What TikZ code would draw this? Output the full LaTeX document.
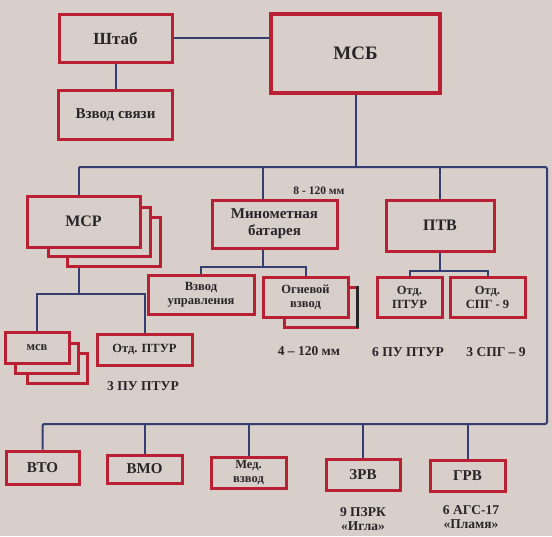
\documentclass[tikz,border=0pt]{standalone}
\usepackage{fontspec}
\setmainfont{Liberation Serif}
\definecolor{paper}{RGB}{216,206,202}
\definecolor{frame}{RGB}{185,32,52}
\definecolor{wire}{RGB}{52,62,112}
\definecolor{ink}{RGB}{40,36,40}
\pgfdeclarelayer{back}
\pgfdeclarelayer{wires}
\pgfsetlayers{back,wires,main}

\begin{document}
\begin{tikzpicture}[x=1pt,y=-1pt,
    unit/.style={draw=frame, line width=3pt, fill=paper, text=ink, align=center,
                 inner sep=0pt, font=\bfseries\fontsize{15}{17}\selectfont},
    smalltxt/.style={font=\bfseries\fontsize{12.5}{14}\selectfont},
    sheet/.style={draw=frame, line width=3pt, fill=paper},
    link/.style={draw=wire, line width=2pt},
    note/.style={text=ink, align=center, font=\bfseries\fontsize{13.5}{14.5}\selectfont}]

    \begin{pgfonlayer}{back}
      \fill[paper] (0,0) rectangle (552,536);
    \end{pgfonlayer}
    \useasboundingbox (0,0) rectangle (552,536);

    % stacked sheets behind the boxes
    \draw[sheet] (67,217) rectangle (160,266);
    \draw[sheet] (48,207) rectangle (150,256);
    \draw[sheet] (27,353) rectangle (87,383);
    \draw[sheet] (15,343) rectangle (78,373);
    \draw[sheet] (284,287) rectangle (357,327);
    \draw[line width=3pt, black!85] (357,286) -- (357,328);

    % top level
    \node[unit, minimum width=113pt, minimum height=48pt, font=\bfseries\fontsize{17}{19}\selectfont] (shtab) at (115.5,38) {Штаб};
    \node[unit, minimum width=114pt, minimum height=49pt] (svyaz) at (115.5,114.5) {Взвод связи};
    \node[unit, line width=4pt, minimum width=169pt, minimum height=79pt,
          font=\bfseries\fontsize{19}{21}\selectfont] (msb) at (355.5,53.5) {МСБ};

    % second level
    \node[unit, minimum width=113pt, minimum height=51pt, font=\bfseries\fontsize{16}{18}\selectfont] (msr) at (83.5,221.5) {МСР};
    \node[unit, minimum width=125pt, minimum height=48pt] (mbat) at (274.5,224) {Минометная\\батарея};
    \node[unit, minimum width=108pt, minimum height=51pt, font=\bfseries\fontsize{16}{18}\selectfont] (ptv) at (440,225.5) {ПТВ};

    \node[unit, smalltxt, minimum width=106pt, minimum height=39pt] (vzu) at (201,294.5) {Взвод\\управления};
    \node[unit, smalltxt, minimum width=85pt, minimum height=40pt] (ogn) at (305.5,297) {Огневой\\взвод};
    \node[unit, smalltxt, minimum width=65pt, minimum height=40pt] (ptur2) at (409.5,297) {Отд.\\ПТУР};
    \node[unit, smalltxt, minimum width=75pt, minimum height=40pt] (spg) at (487.5,297) {Отд.\\СПГ - 9};

    \node[unit, smalltxt, minimum width=64pt, minimum height=31pt] (msv) at (37,347.5) {мсв};
    \node[unit, smalltxt, minimum width=95pt, minimum height=31pt] (ptur1) at (144.5,349.5) {Отд. ПТУР};

    % bottom row
    \node[unit, minimum width=73pt, minimum height=33pt] (vto) at (42.5,467.5) {ВТО};
    \node[unit, minimum width=75pt, minimum height=28pt] (vmo) at (144.5,469) {ВМО};
    \node[unit, smalltxt, minimum width=75pt, minimum height=31pt] (med) at (248.5,472.5) {Мед.\\взвод};
    \node[unit, minimum width=74pt, minimum height=31pt] (zrv) at (363,475) {ЗРВ};
    \node[unit, minimum width=75pt, minimum height=31pt] (grv) at (467.5,475.5) {ГРВ};

    % notes
    \node[note, font=\bfseries\fontsize{11.5}{12}\selectfont] (cal1) at (319,191) {8 - 120 мм};
    \node[note] (cal2) at (309,351) {4 – 120 мм};
    \node[note] (ptur1n) at (143,386) {3 ПУ ПТУР};
    \node[note] (ptur2n) at (408,352) {6 ПУ ПТУР};
    \node[note] (spgn) at (496,352) {3 СПГ – 9};
    \node[note] (zrvn) at (363,519) {9 ПЗРК\\«Игла»};
    \node[note] (grvn) at (471,517) {6 АГС-17\\«Пламя»};

    \begin{pgfonlayer}{wires}
      \coordinate (bt) at (547,167);
      \coordinate (bb) at (547,424);
      \coordinate (msrfork) at (79,294);
      \coordinate (mbfork) at (263,267);
      \coordinate (ptfork) at (440,271);

      \draw[link] (shtab) -- (shtab -| msb.west);
      \draw[link] (shtab) -- (svyaz);
      \draw[link] (msb) -- (msb |- bt);
      \draw[link, rounded corners=2pt] (msrfork |- bt) -- (bt) -- (bb) -| (vto);

      \draw[link] (msrfork |- bt) -- (msrfork);
      \draw[link] (msv) |- (msrfork) -| (ptur1);
      \draw[link] (mbfork |- bt) -- (mbfork);
      \draw[link] (vzu) |- (mbfork) -| (ogn);
      \draw[link] (ptfork |- bt) -- (ptfork);
      \draw[link] (ptur2) |- (ptfork) -| (spg);

      \foreach \n in {vmo,med,zrv,grv}
        \draw[link] (\n) -- (\n |- bb);
    \end{pgfonlayer}
\end{tikzpicture}
\end{document}
